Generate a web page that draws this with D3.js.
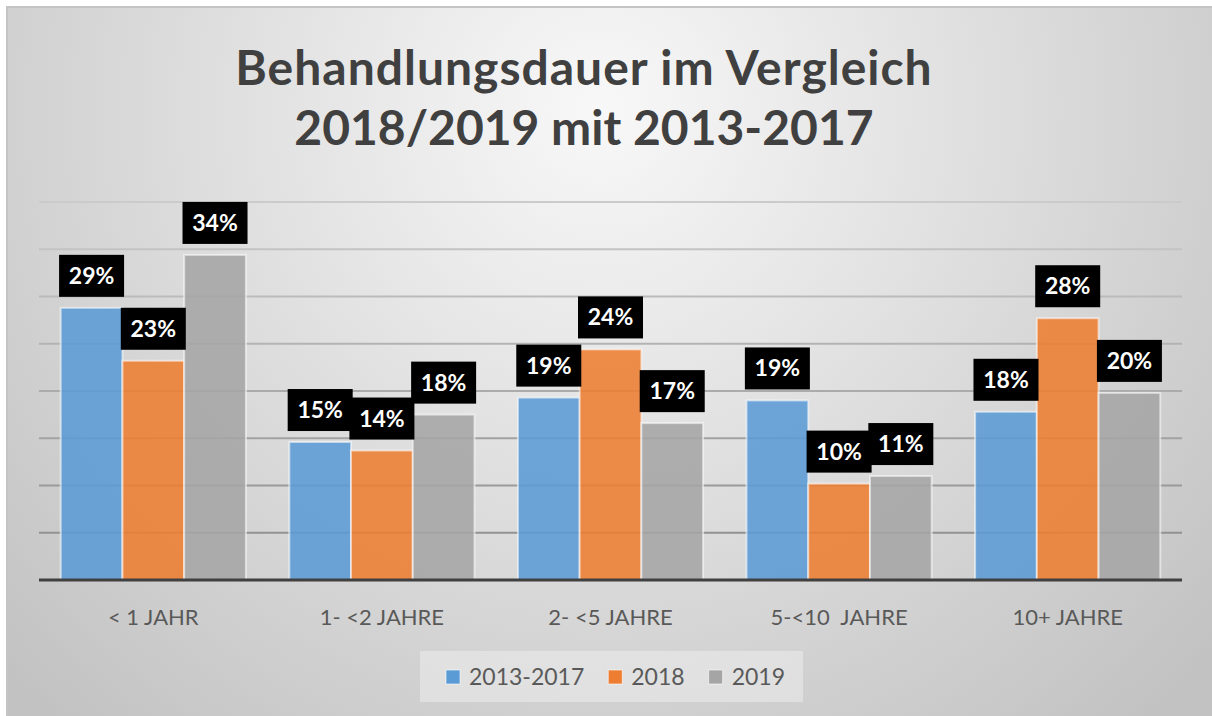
<!DOCTYPE html>
<html>
<head>
<meta charset="utf-8">
<script src="https://cdn.jsdelivr.net/npm/d3@7"></script>
<style>
  html, body { margin: 0; padding: 0; background: #ffffff; }
  svg { display: block; }
  text { font-family: Lato, "Open Sans", sans-serif; }
</style>
</head>
<body>
<div id="chart"></div>
<script>
const categories = ["< 1 JAHR", "1- <2 JAHRE", "2- <5 JAHRE", "5-<10  JAHRE", "10+ JAHRE"];
const seriesNames = ["2013-2017", "2018", "2019"];
// values in percent
const values2013to2017 = [28.8, 14.6, 19.3, 19.0, 17.8];
const values2018 = [23.2, 13.7, 24.4, 10.2, 27.7];
const values2019 = [34.4, 17.5, 16.6, 11.0, 19.8];
const yTicks = [0, 5, 10, 15, 20, 25, 30, 35, 40];
const titleLines = ["Behandlungsdauer im Vergleich", "2018/2019 mit 2013-2017"];

const seriesValues = [values2013to2017, values2018, values2019];
const colors = ["#5b9bd5", "#ed7d31", "#a5a5a5"];

const width = 1212;
const height = 716;
const plot = { left: 39, right: 1182, top: 202, bottom: 580 };

const svg = d3.select("#chart")
    .append("svg")
    .attr("width", width)
    .attr("height", height);

const defs = svg.append("defs");
const bg = defs.append("radialGradient")
    .attr("id", "bg")
    .attr("gradientUnits", "userSpaceOnUse")
    .attr("cx", 600)
    .attr("cy", 110)
    .attr("r", 820);
bg.append("stop").attr("offset", 0).attr("stop-color", "#f8f8f8");
bg.append("stop").attr("offset", 1).attr("stop-color", "#c2c2c2");

// chart frame
svg.append("rect")
    .attr("x", 7)
    .attr("y", 7)
    .attr("width", width)
    .attr("height", height)
    .attr("fill", "url(#bg)")
    .attr("stroke", "#c4c4c4")
    .attr("stroke-width", 2);

const x0 = d3.scaleBand()
    .domain(categories)
    .range([plot.left, plot.right])
    .paddingInner(0.19)
    .paddingOuter(0.095);

const x1 = d3.scaleBand()
    .domain(seriesNames)
    .range([0, x0.bandwidth()]);

const y = d3.scaleLinear()
    .domain([0, 40])
    .range([plot.bottom, plot.top]);

const gridColor = d3.scaleLinear()
    .domain([0, 40])
    .range(["#8a8a8a", "#cbcbcb"]);

// gridlines
svg.append("g")
    .selectAll("line")
    .data(yTicks.filter(d => d > 0))
    .enter()
    .append("line")
    .attr("x1", plot.left)
    .attr("x2", plot.right)
    .attr("y1", d => y(d))
    .attr("y2", d => y(d))
    .attr("stroke", d => gridColor(d))
    .attr("stroke-width", 2);

const rows = [];
categories.forEach((cat, i) => {
    seriesNames.forEach((s, j) => {
        rows.push({ cat: cat, series: s, value: seriesValues[j][i], color: colors[j] });
    });
});

// bars
svg.append("g")
    .selectAll("rect")
    .data(rows)
    .enter()
    .append("rect")
    .attr("x", d => x0(d.cat) + x1(d.series))
    .attr("y", d => y(d.value))
    .attr("width", x1.bandwidth())
    .attr("height", d => y(0) - y(d.value))
    .attr("fill", d => d.color)
    .attr("fill-opacity", 0.88)
    .attr("stroke", "#ffffff")
    .attr("stroke-opacity", 0.55)
    .attr("stroke-width", 2);

// baseline
svg.append("line")
    .attr("x1", plot.left)
    .attr("x2", plot.right)
    .attr("y1", y(0))
    .attr("y2", y(0))
    .attr("stroke", "#404040")
    .attr("stroke-width", 3);

// data labels
const labelW = 65, labelH = 42;
const labels = svg.append("g")
    .selectAll("g")
    .data(rows)
    .enter()
    .append("g")
    .attr("transform", d => {
        const cx = x0(d.cat) + x1(d.series) + x1.bandwidth() / 2;
        return `translate(${cx},${y(d.value) - 11 - labelH})`;
    });

labels.append("rect")
    .attr("x", -labelW / 2)
    .attr("y", 0)
    .attr("width", labelW)
    .attr("height", labelH)
    .attr("fill", "#000000");

labels.append("text")
    .attr("x", 0)
    .attr("y", 29)
    .attr("text-anchor", "middle")
    .attr("fill", "#ffffff")
    .style("font-size", "23px")
    .style("font-weight", "bold")
    .text(d => Math.round(d.value) + "%");

// category labels
svg.append("g")
    .selectAll("text")
    .data(categories)
    .enter()
    .append("text")
    .attr("x", d => x0(d) + x0.bandwidth() / 2)
    .attr("y", 625)
    .attr("text-anchor", "middle")
    .attr("fill", "#595959")
    .style("font-size", "22px")
    .style("white-space", "pre")
    .text(d => d);

// title
svg.append("g")
    .selectAll("text")
    .data(titleLines)
    .enter()
    .append("text")
    .attr("x", 584)
    .attr("y", (d, i) => 85 + i * 60)
    .attr("text-anchor", "middle")
    .attr("fill", "#404040")
    .style("font-size", "48px")
    .style("font-weight", "bold")
    .style("letter-spacing", (d, i) => i === 0 ? "1px" : "0px")
    .text(d => d);

// legend
const legend = svg.append("g");
legend.append("rect")
    .attr("x", 420)
    .attr("y", 651)
    .attr("width", 383)
    .attr("height", 51)
    .attr("fill", "#ececec")
    .attr("fill-opacity", 0.55);

let lx = 446;
seriesNames.forEach((s, i) => {
    legend.append("rect")
        .attr("x", lx)
        .attr("y", 670)
        .attr("width", 14)
        .attr("height", 14)
        .attr("fill", colors[i])
        .attr("stroke", "#ffffff")
        .attr("stroke-opacity", 0.6);
    const t = legend.append("text")
        .attr("x", lx + 23)
        .attr("y", 685)
        .attr("fill", "#595959")
        .style("font-size", "23px")
        .text(s);
    lx += 23 + t.node().getComputedTextLength() + 24;
});
</script>
</body>
</html>
